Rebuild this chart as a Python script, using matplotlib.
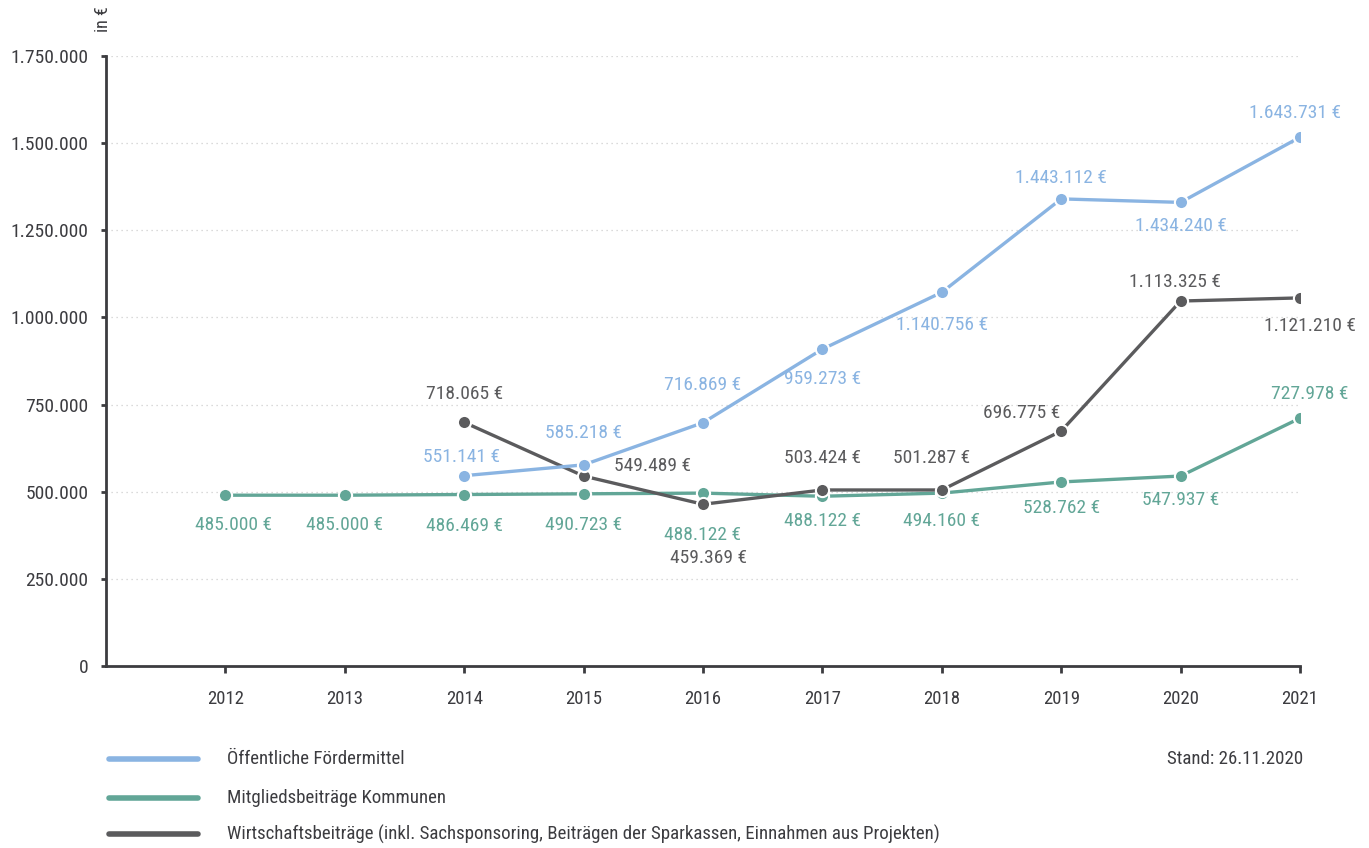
import matplotlib
matplotlib.use("Agg")
import matplotlib.pyplot as plt
from matplotlib import font_manager

# pick a condensed face if one is installed, else plain
names = sorted(set(f.name for f in font_manager.fontManager.ttflist))
font = "DejaVu Sans"
for cand in ["Roboto Condensed", "Open Sans Condensed", "DejaVu Sans Condensed", "Liberation Sans Narrow"]:
    if cand in names:
        font = cand
        break
stretch = "condensed" if font == "DejaVu Sans" else "normal"
plt.rcParams["font.family"] = [font, "DejaVu Sans"]
plt.rcParams["font.stretch"] = stretch

years = [2012, 2013, 2014, 2015, 2016, 2017, 2018, 2019, 2020, 2021]

# values as plotted (read from point positions)
foerder_years = [2014, 2015, 2016, 2017, 2018, 2019, 2020, 2021]
foerder = [546000, 577000, 698000, 909000, 1072000, 1340000, 1330000, 1517000]
foerder_labels = ["551.141 €", "585.218 €", "716.869 €", "959.273 €",
                  "1.140.756 €", "1.443.112 €", "1.434.240 €", "1.643.731 €"]

kommunen = [490000, 490000, 492000, 494000, 496000, 487000, 496000, 528000, 545000, 711000]
kommunen_labels = ["485.000 €", "485.000 €", "486.469 €", "490.723 €", "488.122 €",
                   "488.122 €", "494.160 €", "528.762 €", "547.937 €", "727.978 €"]

wirtschaft_years = [2014, 2015, 2016, 2017, 2018, 2019, 2020, 2021]
wirtschaft = [699000, 545000, 464000, 505000, 505000, 674000, 1047000, 1056000]
wirtschaft_labels = ["718.065 €", "549.489 €", "459.369 €", "503.424 €",
                     "501.287 €", "696.775 €", "1.113.325 €", "1.121.210 €"]

c_blue = "#8ab4e2"
c_green = "#62a697"
c_dark = "#5b5b5d"
c_text = "#3c3c40"

# label offsets from the point, in pixels (dx, dy up)
foerder_off = [(-3, 19), (0, 32), (0, 38), (0, -30), (0, -33), (0, 21), (0, -24), (-5, 24)]
kommunen_off = [(8, -30), (0, -30), (0, -31), (0, -31), (0, -42), (0, -25), (0, -28), (0, -26), (0, -24), (10, 24)]
wirtschaft_off = [(0, 28), (69, 10), (6, -54), (0, 32), (-10, 32), (-40, 18), (-6, 19), (10, -28)]

fig = plt.figure(figsize=(13.69, 8.48), dpi=100)
ax = fig.add_axes([0.0774, 0.2146, 0.8722, 0.7194])

def draw(xs, ys, labels, offs, color):
    ax.plot(xs, ys, color=color, lw=2.4, marker="o", markersize=9.5,
            markerfacecolor=color, markeredgecolor="white", markeredgewidth=1.5, zorder=3)
    for x, y, s, (dx, dy) in zip(xs, ys, labels, offs):
        ax.annotate(s, (x, y), xytext=(dx * 0.72, dy * 0.72), textcoords="offset points",
                    ha="center", va="center", fontsize=14, color=color)

draw(years, kommunen, kommunen_labels, kommunen_off, c_green)
draw(wirtschaft_years, wirtschaft, wirtschaft_labels, wirtschaft_off, c_dark)
draw(foerder_years, foerder, foerder_labels, foerder_off, c_blue)

ax.set_xlim(2011, 2021)
ax.set_ylim(0, 1750000)
ax.set_xticks(years)
ax.set_xticklabels([str(y) for y in years])
yt = [0, 250000, 500000, 750000, 1000000, 1250000, 1500000, 1750000]
ax.set_yticks(yt)
ax.set_yticklabels(["0" if v == 0 else f"{v:,}".replace(",", ".") for v in yt])
for v in yt[1:]:
    ax.axhline(v, color="#cfcfcf", lw=0.9, ls=(0, (1, 3)), zorder=0)

for s in ["top", "right"]:
    ax.spines[s].set_visible(False)
for s in ["left", "bottom"]:
    ax.spines[s].set_color(c_text)
    ax.spines[s].set_linewidth(2)
ax.tick_params(axis="both", colors=c_text, width=2, direction="out")
ax.tick_params(axis="x", labelsize=13.5, length=5, pad=12)
ax.tick_params(axis="y", labelsize=14, length=3.5, pad=9)

fig.text(0.0755, 0.977, "in €", rotation=90, ha="center", va="center", fontsize=13, color=c_text)

# legend drawn below the axes
leg_items = [("Öffentliche Fördermittel", c_blue, 0.105),
             ("Mitgliedsbeiträge Kommunen", c_green, 0.059),
             ("Wirtschaftsbeiträge (inkl. Sachsponsoring, Beiträgen der Sparkassen, Einnahmen aus Projekten)", c_dark, 0.0165)]
for label, color, y in leg_items:
    fig.add_artist(plt.Line2D([0.0795, 0.1445], [y, y], color=color, lw=4, solid_capstyle="round"))
    fig.text(0.166, y, label, ha="left", va="center", fontsize=13.6, color=c_text)
fig.text(0.952, 0.105, "Stand: 26.11.2020", ha="right", va="center", fontsize=13.6, color=c_text)

fig.savefig("out.png", dpi=100)
